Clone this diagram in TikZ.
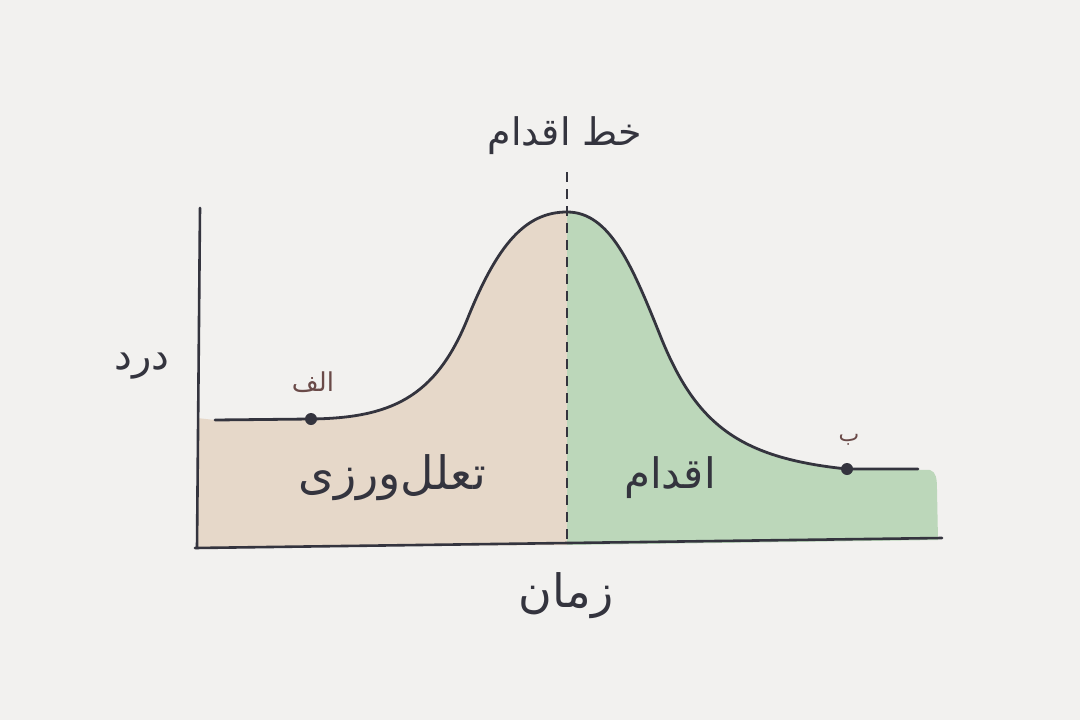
\documentclass[tikz,border=0pt]{standalone}
\usepackage{fontspec}
\newfontfamily\arabicfont[Script=Arabic]{DejaVu Sans}
\TeXXeTstate=1
\definecolor{bg}{HTML}{F2F1EF}
\definecolor{tanfill}{HTML}{E6D8C9}
\definecolor{greenfill}{HTML}{BCD7BA}
\definecolor{ink}{HTML}{34343E}
\definecolor{brownink}{HTML}{6A4A48}
\tikzset{
  axisline/.style={draw=ink, line width=2.6pt, line cap=round},
  curveline/.style={draw=ink, line width=2.8pt, line cap=round},
  dot/.style={circle, fill=ink, inner sep=0pt, minimum size=12pt},
  label/.style={text=ink, font=\arabicfont\fontsize{34}{40}\selectfont},
  smalllabel/.style={text=brownink, font=\arabicfont\fontsize{22}{26}\selectfont},
}
\begin{document}
\begin{tikzpicture}[x=1pt, y=-1pt]
\useasboundingbox (0,0) rectangle (1080,720);
\fill[bg] (0,0) rectangle (1080,720);
% fills
\fill[tanfill] (197,418) -- (215,420) -- (311,419) .. controls (390,418) and (435,398) .. (467,320) .. controls (497,245) and (525,212) .. (567,212) -- (567,545) -- (197,547) -- cycle;
\fill[greenfill] (567,212) .. controls (610,212) and (632,265) .. (662,340) .. controls (697,425) and (740,458) .. (847,469) -- (930,470) .. controls (936,472) and (937,478) .. (937,490) -- (938,540) -- (567,545) -- cycle;
% nodes
\node[dot] (A) at (311,419) {};
\node[dot] (B) at (847,469) {};
\coordinate (start) at (215,420);
\coordinate (end) at (918,469);
\coordinate (peak) at (567,212);
\coordinate (ytop) at (200,208);
\coordinate (origin) at (197,548);
\coordinate (xend) at (942,538);
\coordinate (dtop) at (567,172);
\coordinate (dbot) at (567,545);
% axes
\draw[axisline] (ytop) -- (origin);
\draw[axisline] (195,548) -- (xend);
% curve
\draw[curveline] (start) -- (A.center) .. controls (390,418) and (435,398) .. (467,320) .. controls (497,245) and (525,212) .. (peak) .. controls (610,212) and (632,265) .. (662,340) .. controls (697,425) and (740,458) .. (B.center) -- (end);
% dashed line
\draw[draw=ink, line width=2.6pt, dash pattern=on 10pt off 7pt] (dtop) -- (dbot);
% labels
\node[label, font=\arabicfont\fontsize{38}{44}\selectfont] (t1) at (565,136) {\beginR خط اقدام\endR};
\node[label, font=\arabicfont\fontsize{40}{46}\selectfont] (t2) at (142,366) {\beginR درد\endR};
\node[label, font=\arabicfont\fontsize{46}{52}\selectfont] (t3) at (566,596) {\beginR زمان\endR};
\node[label, font=\arabicfont\fontsize{46}{52}\selectfont] (t4) at (392,478) {\beginR تعلل‌ورزی\endR};
\node[label, font=\arabicfont\fontsize{42}{48}\selectfont] (t5) at (670,478) {\beginR اقدام\endR};
\node[smalllabel, font=\arabicfont\fontsize{26}{30}\selectfont] (ta) at (313,382) {\beginR الف\endR};
\node[smalllabel] (tb) at (849,440) {\beginR ب\endR};
\end{tikzpicture}
\end{document}
